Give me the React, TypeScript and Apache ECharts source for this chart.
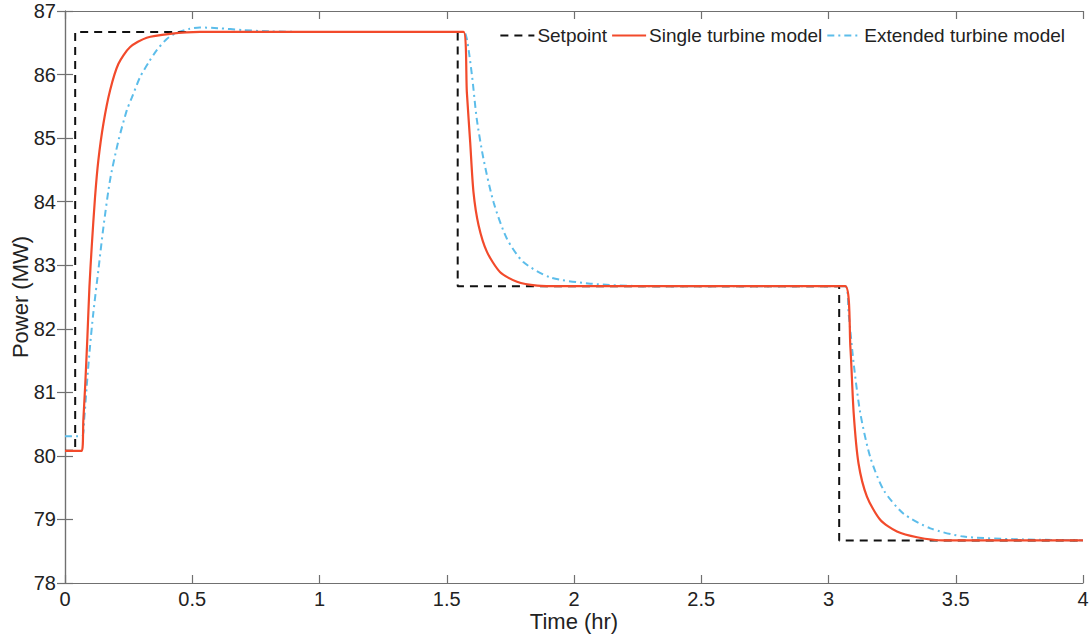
import React, { useEffect, useRef } from "react";
import * as echarts from "echarts";

const setT = [0, 0.04, 0.04, 1.543, 1.543, 3.042, 3.042, 4];
const setV = [80.08, 80.08, 86.67, 86.67, 82.67, 82.67, 78.67, 78.67];

const singleT = [0, 0.066, 0.072, 0.079, 0.088, 0.096, 0.105, 0.118, 0.131, 0.151, 0.177, 0.21, 0.255, 0.321, 0.413, 0.53, 1.566, 1.579, 1.592, 1.605, 1.625, 1.658, 1.71, 1.776, 1.855, 1.95, 3.066, 3.086, 3.099, 3.118, 3.151, 3.204, 3.269, 3.348, 3.45, 4];
const singleV = [80.08, 80.08, 80.56, 81.08, 81.87, 82.66, 83.29, 84.07, 84.65, 85.23, 85.75, 86.17, 86.43, 86.58, 86.64, 86.67, 86.67, 85.72, 84.94, 84.15, 83.63, 83.21, 82.89, 82.74, 82.68, 82.67, 82.67, 81.71, 80.67, 79.88, 79.36, 78.99, 78.81, 78.72, 78.67, 78.67];

const extT = [0, 0.066, 0.075, 0.085, 0.098, 0.111, 0.131, 0.151, 0.177, 0.21, 0.243, 0.263, 0.295, 0.33, 0.36, 0.4, 0.44, 0.49, 0.53, 0.6, 0.7, 0.8, 0.95, 1.566, 1.579, 1.599, 1.618, 1.644, 1.684, 1.736, 1.801, 1.906, 2.064, 2.3, 3.066, 3.079, 3.099, 3.125, 3.164, 3.217, 3.295, 3.4, 3.531, 3.728, 4];
const extV = [80.31, 80.31, 80.56, 81.08, 81.71, 82.24, 82.92, 83.6, 84.34, 84.96, 85.44, 85.64, 85.96, 86.2, 86.38, 86.56, 86.66, 86.72, 86.74, 86.73, 86.7, 86.68, 86.67, 86.67, 86.56, 85.99, 85.3, 84.68, 83.99, 83.42, 83.05, 82.81, 82.71, 82.67, 82.67, 82.24, 81.45, 80.67, 79.98, 79.46, 79.09, 78.86, 78.73, 78.69, 78.67];

const zip = (t: number[], v: number[]) => t.map((x, i) => [x, v[i]]);

const FONT = "'Liberation Sans', Arial, Helvetica, sans-serif";
const AXIS_COLOR = "#707070";
const TEXT_COLOR = "#222222";

export default function App() {
  const ref = useRef<HTMLDivElement>(null);
  useEffect(() => {
    if (!ref.current) return;
    const chart = echarts.init(ref.current, undefined, { renderer: "svg" });
    const axisCommon = {
      axisLine: { show: true, lineStyle: { color: AXIS_COLOR, width: 1.2 } },
      axisTick: { show: true, inside: true, length: 8, lineStyle: { color: AXIS_COLOR, width: 1.2 } },
      splitLine: { show: false },
    };
    chart.setOption({
      animation: false,
      backgroundColor: "#ffffff",
      textStyle: { fontFamily: FONT },
      grid: { left: 65, right: 8, top: 11, bottom: 53, containLabel: false, outerBoundsMode: "none" },
      legend: {
        right: 21,
        top: 21,
        itemWidth: 34,
        itemHeight: 14,
        itemGap: 4,
        itemStyle: { opacity: 0 },
        textStyle: { fontSize: 19, color: TEXT_COLOR, fontFamily: FONT, padding: [0, 0, 0, -2] },
        data: ["Setpoint", "Single turbine model", "Extended turbine model"],
      },
      xAxis: [
        {
          type: "value",
          min: 0,
          max: 4,
          interval: 0.5,
          name: "Time (hr)",
          nameLocation: "middle",
          nameGap: 26,
          nameMoveOverlap: false,
          nameTextStyle: { fontSize: 22, color: TEXT_COLOR, fontFamily: FONT, verticalAlign: "top", lineHeight: 24 },
          axisLabel: { fontSize: 20, color: TEXT_COLOR, margin: 6, fontFamily: FONT },
          ...axisCommon,
        },
        {
          type: "value",
          position: "top",
          min: 0,
          max: 4,
          interval: 0.5,
          axisLabel: { show: false },
          ...axisCommon,
        },
      ],
      yAxis: [
        {
          type: "value",
          min: 78,
          max: 87,
          interval: 1,
          name: "Power (MW)",
          nameLocation: "middle",
          nameGap: 33,
          nameMoveOverlap: false,
          nameTextStyle: { fontSize: 22, color: TEXT_COLOR, fontFamily: FONT, lineHeight: 24 },
          axisLabel: { fontSize: 20, color: TEXT_COLOR, margin: 9, fontFamily: FONT },
          ...axisCommon,
        },
        {
          type: "value",
          position: "right",
          min: 78,
          max: 87,
          interval: 1,
          axisLabel: { show: false },
          ...axisCommon,
        },
      ],
      series: [
        {
          name: "Extended turbine model",
          type: "line",
          data: zip(extT, extV),
          symbol: "none",
          smooth: 0.25,
          z: 2,
          lineStyle: { color: "#5CBDEA", width: 2, type: [7, 4, 2, 4] },
          itemStyle: { color: "#5CBDEA" },
        },
        {
          name: "Setpoint",
          type: "line",
          data: zip(setT, setV),
          symbol: "none",
          z: 3,
          lineStyle: { color: "#111", width: 2, type: [8, 6] },
          itemStyle: { color: "#111" },
        },
        {
          name: "Single turbine model",
          type: "line",
          data: zip(singleT, singleV),
          symbol: "none",
          smooth: 0.25,
          z: 4,
          lineStyle: { color: "#F24A2B", width: 2.2 },
          itemStyle: { color: "#F24A2B" },
        },
      ],
    });
    return () => chart.dispose();
  }, []);
  return (
    <div
      ref={ref}
      style={{ width: 1091, height: 636, position: "absolute", left: 0, top: 0 }}
    />
  );
}
